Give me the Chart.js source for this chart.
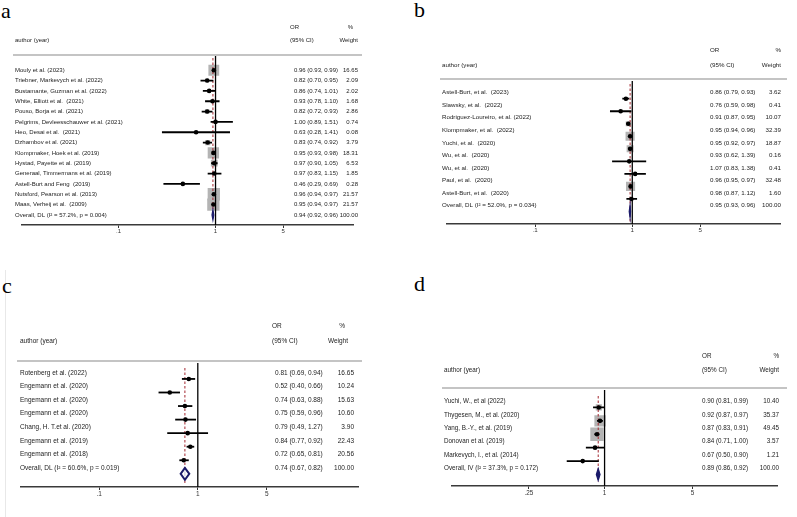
<!DOCTYPE html>
<html>
<head>
<meta charset="utf-8">
<script src="https://cdn.jsdelivr.net/npm/chart.js@4.4.1/dist/chart.umd.min.js"></script>
<style>
  body { margin: 0; background: #fff; }
  #wrap { position: relative; width: 797px; height: 517px; overflow: hidden; background: #fff; }
  canvas { position: absolute; }
  .lab { position: absolute; font-family: 'Liberation Serif', 'DejaVu Serif', serif; font-size: 22px; line-height: 1; color: #000; }
  #edge { position: absolute; left: 5px; top: 270px; width: 1px; height: 247px; background: #e8e8e8; }
</style>
</head>
<body>
<div id="wrap">
  <div id="edge"></div>
  <div class="lab" style="left:1px;top:0px">a</div>
  <div class="lab" style="left:414px;top:-1px">b</div>
  <div class="lab" style="left:2px;top:275px">c</div>
  <div class="lab" style="left:414px;top:273px">d</div>
  <canvas id="chartA"></canvas>
  <canvas id="chartB"></canvas>
  <canvas id="chartC"></canvas>
  <canvas id="chartD"></canvas>
</div>
<script>
// ---- panel a ----
const authorsA = ['Mouly et al. (2023)', 'Triebner, Markevych et al. (2022)', 'Bustamante, Guzman et al. (2022)',
  'White, Elliott et al.  (2021)', 'Pouso, Borja et al. (2021)', 'Pelgrims, Devleesschauwer et al. (2021)',
  'Heo, Desai et al.  (2021)', 'Dzhambov et al. (2021)', 'Klompmaker, Hoek et al. (2019)', 'Hystad, Payette et al. (2019)',
  'Generaal, Timmermans et al. (2019)', 'Astell-Burt and Feng  (2019)', 'Nutsford, Pearson et al. (2013)', 'Maas, Verheij et al.  (2009)']
const orA = [0.96, 0.82, 0.86, 0.93, 0.82, 1.00, 0.63, 0.83, 0.95, 0.97, 0.97, 0.46, 0.96, 0.95]
const loA = [0.93, 0.70, 0.74, 0.78, 0.72, 0.89, 0.28, 0.74, 0.93, 0.90, 0.83, 0.29, 0.94, 0.94]
const hiA = [0.99, 0.95, 1.01, 1.10, 0.93, 1.51, 1.41, 0.92, 0.98, 1.05, 1.15, 0.69, 0.97, 0.97]
const weightA = [16.65, 2.09, 2.02, 1.68, 2.86, 0.74, 0.08, 3.79, 18.31, 6.53, 1.85, 0.28, 21.57, 21.57]
const overallA = [0.94, 0.92, 0.96]
const overallLabelA = 'Overall, DL (I² = 57.2%, p = 0.004)'
const ticksA = [0.1, 1, 5]
const tickLabelsA = ['.1', '1', '5']

// ---- panel b ----
const authorsB = ['Astell-Burt, et al.  (2023)', 'Slawsky, et al.  (2022)', 'Rodriguez-Loureiro, et al. (2022)',
  'Klompmaker, et al.  (2022)', 'Yuchi, et al.  (2020)', 'Wu, et al.  (2020)', 'Wu, et al.  (2020)',
  'Paul, et al.  (2020)', 'Astell-Burt, et al.  (2020)']
const orB = [0.86, 0.76, 0.91, 0.95, 0.95, 0.93, 1.07, 0.96, 0.98]
const loB = [0.79, 0.59, 0.87, 0.94, 0.92, 0.62, 0.83, 0.95, 0.87]
const hiB = [0.93, 0.98, 0.95, 0.96, 0.97, 1.39, 1.38, 0.97, 1.12]
const weightB = [3.62, 0.41, 10.07, 32.39, 18.87, 0.16, 0.41, 32.48, 1.60]
const overallB = [0.95, 0.93, 0.96]
const overallLabelB = 'Overall, DL (I² = 52.0%, p = 0.034)'
const ticksB = [0.1, 1, 5]
const tickLabelsB = ['.1', '1', '5']

// ---- panel c ----
const authorsC = ['Rotenberg et al. (2022)', 'Engemann et al. (2020)', 'Engemann et al. (2020)', 'Engemann et al. (2020)',
  'Chang, H. T.et al. (2020)', 'Engemann et al. (2019)', 'Engemann et al. (2018)']
const orC = [0.81, 0.52, 0.74, 0.75, 0.79, 0.84, 0.72]
const loC = [0.69, 0.40, 0.63, 0.59, 0.49, 0.77, 0.65]
const hiC = [0.94, 0.66, 0.88, 0.96, 1.27, 0.92, 0.81]
const weightC = [16.65, 10.24, 15.63, 10.60, 3.90, 22.43, 20.56]
const overallC = [0.74, 0.67, 0.82]
const overallLabelC = 'Overall, DL (I² = 60.6%, p = 0.019)'
const ticksC = [0.1, 1, 5]
const tickLabelsC = ['.1', '1', '5']

// ---- panel d ----
const authorsD = ['Yuchi, W., et al (2022)', 'Thygesen, M., et al. (2020)', 'Yang, B.-Y., et al. (2019)',
  'Donovan et al. (2019)', 'Markevych, I., et al. (2014)']
const orD = [0.90, 0.92, 0.87, 0.84, 0.67]
const loD = [0.81, 0.87, 0.83, 0.71, 0.50]
const hiD = [0.99, 0.97, 0.91, 1.00, 0.90]
const weightD = [10.40, 35.37, 49.45, 3.57, 1.21]
const overallD = [0.89, 0.86, 0.92]
const overallLabelD = 'Overall, IV (I² = 37.3%, p = 0.172)'
const ticksD = [0.25, 1, 5]
const tickLabelsD = ['.25', '1', '5']

const NAVY = '#1b1b6b'
const FONT = '"Liberation Sans", Arial, sans-serif'

function fmt(v) { return v.toFixed(2) }

function forest(canvasId, rows, lay) {
  const canvas = document.getElementById(canvasId)
  const w = lay.x1 - lay.x0
  const areaH = lay.axisY - lay.top
  canvas.width = w
  canvas.height = areaH + 20
  canvas.style.left = lay.x0 + 'px'
  canvas.style.top = lay.top + 'px'
  const n = rows.authors.length
  const idx = rows.or.map((v, i) => i)
  // y value i sits at textY0 + i*step + markerDy
  const yMin = -(lay.textY0 + lay.markerDy - lay.top) / lay.step
  const yMax = yMin + areaH / lay.step
  const xMin = Math.pow(10, (lay.x0 - lay.p1) / lay.dec)
  const xMax = Math.pow(10, (lay.x1 - lay.p1) / lay.dec)

  const datasets = []
  datasets.push({
    label: 'box', order: 3,
    data: idx.map(i => ({ x: rows.or[i], y: i })),
    pointStyle: 'rect',
    pointRadius: rows.weight.map(wt => Math.sqrt(wt) * lay.boxK / Math.SQRT2),
    pointBackgroundColor: '#b4b4b4', pointBorderWidth: 0
  })
  idx.forEach(i => datasets.push({
    label: 'ci', order: 2, showLine: true,
    data: [{ x: rows.lo[i], y: i }, { x: rows.hi[i], y: i }],
    borderColor: '#000', borderWidth: lay.ciW, pointRadius: 0
  }))
  datasets.push({
    label: 'est', order: 1,
    data: idx.map(i => ({ x: rows.or[i], y: i })),
    pointStyle: 'circle', pointRadius: lay.dotR,
    pointBackgroundColor: '#000', pointBorderWidth: 0
  })

  const table = {
    id: 'table' + canvasId,
    afterDatasetDraw(chart, args) {
      if (chart.data.datasets[args.index].label !== 'box') return
      const ctx = chart.ctx, xs = chart.scales.x
      const p1 = xs.getPixelForValue(1)
      const pe = xs.getPixelForValue(rows.overall[0])
      ctx.save()
      ctx.strokeStyle = '#000'
      ctx.lineWidth = 1.3
      ctx.beginPath()
      ctx.moveTo(p1, lay.nullTop - lay.top)
      ctx.lineTo(p1, areaH)
      ctx.stroke()
      ctx.strokeStyle = '#a3262e'
      ctx.lineWidth = 1
      ctx.setLineDash([2.5, 2])
      ctx.beginPath()
      ctx.moveTo(pe, lay.redTop - lay.top)
      ctx.lineTo(pe, lay.redBot - lay.top)
      ctx.stroke()
      ctx.restore()
    },
    afterDatasetsDraw(chart) {
      const ctx = chart.ctx, xs = chart.scales.x, ys = chart.scales.y
      const yc = ys.getPixelForValue(n)
      const xl = xs.getPixelForValue(rows.overall[1])
      const xm = xs.getPixelForValue(rows.overall[0])
      const xr = xs.getPixelForValue(rows.overall[2])
      ctx.save()
      ctx.beginPath()
      ctx.moveTo(xl, yc)
      ctx.lineTo(xm, yc - lay.diamH)
      ctx.lineTo(xr, yc)
      ctx.lineTo(xm, yc + lay.diamH)
      ctx.closePath()
      ctx.strokeStyle = NAVY
      if (lay.hollow) {
        ctx.fillStyle = '#fff'
        ctx.fill()
        ctx.lineWidth = 2
        ctx.stroke()
        ctx.strokeStyle = '#c8c8d8'
        ctx.lineWidth = 1
        ctx.beginPath()
        ctx.moveTo(xm, yc - 2.5)
        ctx.lineTo(xm, yc + 2.5)
        ctx.stroke()
      } else {
        ctx.fillStyle = NAVY
        ctx.fill()
        ctx.lineWidth = 1.2
        ctx.stroke()
      }
      ctx.restore()
    },
    afterDraw(chart) {
      const ctx = chart.ctx, ys = chart.scales.y
      const X = v => v - lay.x0
      const Y = v => v - lay.top
      ctx.save()
      ctx.font = lay.fs + 'px ' + FONT
      ctx.fillStyle = '#222'
      ctx.textBaseline = 'middle'
      // grey separator
      ctx.strokeStyle = '#c4c4c4'
      ctx.lineWidth = 2
      ctx.beginPath()
      ctx.moveTo(0, Y(lay.lineY))
      ctx.lineTo(chart.width, Y(lay.lineY))
      ctx.stroke()
      // headers
      ctx.textAlign = 'left'
      ctx.fillText('author (year)', X(lay.authX), Y(lay.hdr2))
      ctx.fillText('OR', X(lay.orHX), Y(lay.hdr1))
      ctx.fillText('(95% CI)', X(lay.orHX), Y(lay.hdr2))
      ctx.textAlign = 'right'
      ctx.fillText('%', X(lay.pctX), Y(lay.hdr1))
      ctx.fillText('Weight', X(lay.wtHX), Y(lay.hdr2))
      // rows
      for (let i = 0; i <= n; i++) {
        const y = ys.getPixelForValue(i) - lay.markerDy
        const isAll = i === n
        const est = isAll ? rows.overall : [rows.or[i], rows.lo[i], rows.hi[i]]
        ctx.textAlign = 'left'
        ctx.fillText(isAll ? rows.overallLabel : rows.authors[i], X(lay.authX), y)
        ctx.fillText(fmt(est[0]) + ' (' + fmt(est[1]) + ', ' + fmt(est[2]) + ')', X(lay.valX), y)
        ctx.textAlign = 'right'
        ctx.fillText(isAll ? '100.00' : fmt(rows.weight[i]), X(lay.wtX), y)
      }
      ctx.restore()
    }
  }

  return new Chart(canvas, {
    type: 'scatter',
    data: { datasets: datasets },
    options: {
      responsive: false,
      animation: false,
      devicePixelRatio: 1,
      events: [],
      layout: { padding: 0 },
      plugins: { legend: { display: false }, tooltip: { enabled: false } },
      scales: {
        x: {
          type: 'logarithmic', min: xMin, max: xMax,
          afterBuildTicks: (scale) => { scale.ticks = rows.ticks.map(v => ({ value: v })) },
          afterFit: (scale) => { scale.height = 20 },
          grid: { drawOnChartArea: false, drawTicks: true, tickLength: 3, color: '#333', lineWidth: 1 },
          border: { display: true, color: '#3a3a3a', width: 1.5 },
          ticks: {
            autoSkip: false, maxRotation: 0, padding: 0, color: '#333',
            font: { family: FONT, size: lay.fs },
            callback: (v, i) => rows.tickLabels[i]
          }
        },
        y: { type: 'linear', display: false, reverse: true, min: yMin, max: yMax }
      }
    },
    plugins: [table]
  })
}

forest('chartA', { authors: authorsA, or: orA, lo: loA, hi: hiA, weight: weightA, overall: overallA,
  overallLabel: overallLabelA, ticks: ticksA, tickLabels: tickLabelsA },
  { top: 0, x0: 13, x1: 362, p1: 217, dec: 102, axisY: 225, hdr1: 27, hdr2: 40, lineY: 55, textY0: 64, step: 10.75,
    markerDy: 0, authX: 15, orHX: 290, valX: 294, pctX: 353, wtHX: 358, wtX: 358, fs: 6, boxK: 2.65, dotR: 2.3,
    ciW: 1.8, diamH: 5, nullTop: 55, redTop: 58, redBot: 220, hollow: false })

forest('chartB', { authors: authorsB, or: orB, lo: loB, hi: hiB, weight: weightB, overall: overallB,
  overallLabel: overallLabelB, ticks: ticksB, tickLabels: tickLabelsB },
  { top: 0, x0: 440, x1: 787, p1: 633, dec: 101, axisY: 224, hdr1: 50, hdr2: 65, lineY: 79, textY0: 89, step: 12.9,
    markerDy: 6, authX: 442, orHX: 710, valX: 710, pctX: 781, wtHX: 781, wtX: 781, fs: 6.2, boxK: 1.6, dotR: 2.3,
    ciW: 1.8, diamH: 6.5, nullTop: 81, redTop: 84, redBot: 222, hollow: false })

forest('chartC', { authors: authorsC, or: orC, lo: loC, hi: hiC, weight: weightC, overall: overallC,
  overallLabel: overallLabelC, ticks: ticksC, tickLabels: tickLabelsC },
  { top: 260, x0: 17, x1: 362, p1: 198, dec: 101, axisY: 487, hdr1: 326, hdr2: 341, lineY: 361, textY0: 371, step: 13.8,
    markerDy: 6, authX: 20, orHX: 272, valX: 275, pctX: 345, wtHX: 348, wtX: 354, fs: 6.5, boxK: 0, dotR: 2.3,
    ciW: 1.8, diamH: 6, nullTop: 363, redTop: 368, redBot: 483, hollow: true })

forest('chartD', { authors: authorsD, or: orD, lo: loD, hi: hiD, weight: weightD, overall: overallD,
  overallLabel: overallLabelD, ticks: ticksD, tickLabels: tickLabelsD },
  { top: 260, x0: 442, x1: 787, p1: 604, dec: 133, axisY: 486, hdr1: 356, hdr2: 370, lineY: 388, textY0: 398, step: 14,
    markerDy: 6, authX: 444, orHX: 702, valX: 702, pctX: 779, wtHX: 779, wtX: 779, fs: 6.3, boxK: 1.9, dotR: 2.3,
    ciW: 1.8, diamH: 6, nullTop: 390, redTop: 396, redBot: 482, hollow: false })
</script>
</body>
</html>
